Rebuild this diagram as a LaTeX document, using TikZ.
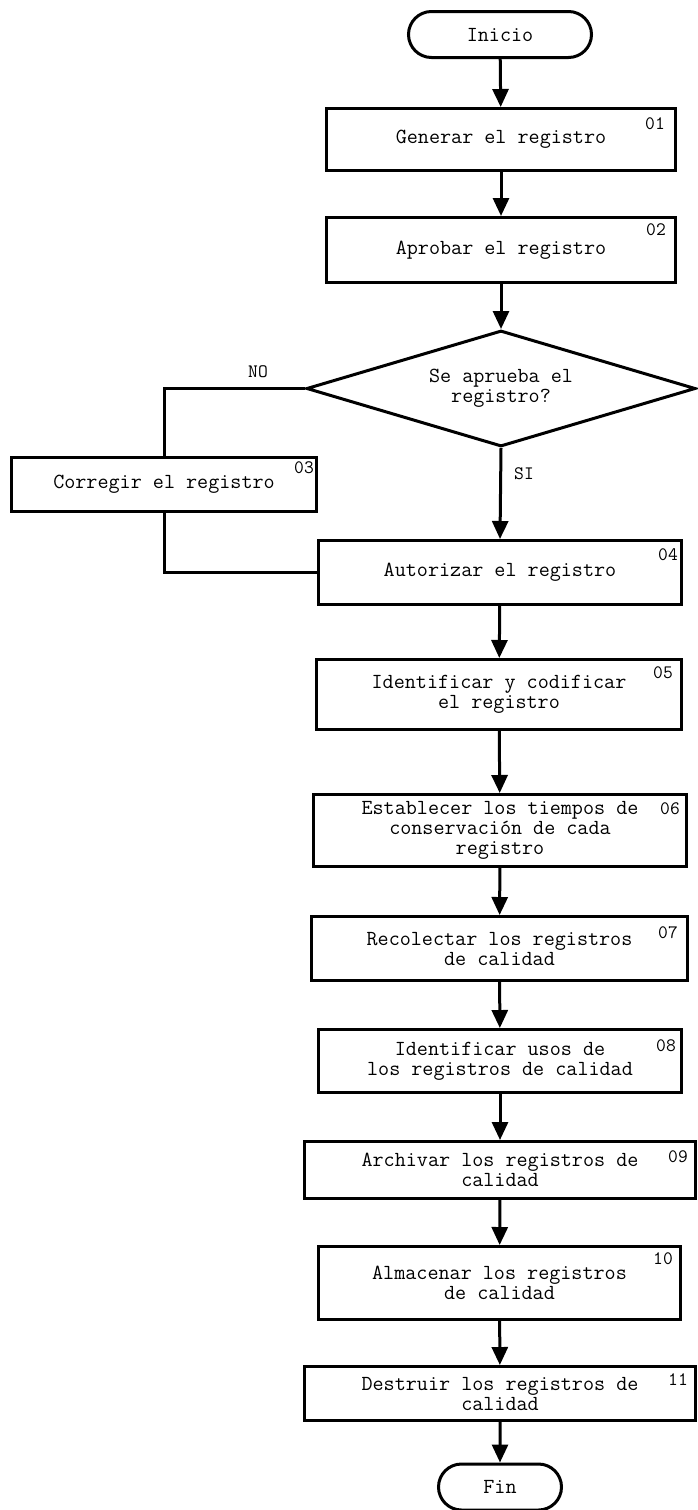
\documentclass[tikz,border=0pt]{standalone}
\usepackage{fontspec}
\usetikzlibrary{shapes.geometric,shapes.misc,arrows.meta}

\begin{document}
\begin{tikzpicture}[x=1pt,y=-1pt,
  txt/.style={font=\ttfamily\fontsize{21.5}{20}\selectfont},
  num/.style={font=\ttfamily\fontsize{19}{20}\selectfont, inner sep=0pt},
  lw/.style={line width=3pt},
  link/.style={lw},
  flow/.style={lw, -{Triangle[width=16pt,length=18pt]}},
  stepbox/.style={draw, lw, rectangle, txt, align=center, inner sep=0pt},
  term/.style={draw, lw, rounded rectangle, txt, inner sep=0pt},
  decision/.style={draw, lw, diamond, aspect=3.3, txt, align=center, inner sep=0pt}]

\useasboundingbox (0,0) rectangle (698,1510);

% terminals
\node[term, minimum width=183pt, minimum height=46pt] (start) at (500,34.5) {Inicio};
\node[term, minimum width=123pt, minimum height=46pt] (end) at (500,1487) {Fin};

% process steps
\node[stepbox, minimum width=349pt, minimum height=62pt] (b1) at (501,139.5) {Generar el registro};
\node[stepbox, minimum width=349pt, minimum height=65pt] (b2) at (501,250) {Aprobar el registro};
\node[decision, minimum width=389pt, minimum height=116pt] (dec) at (501,388.5) {Se aprueba el\\registro?};
\node[stepbox, minimum width=305pt, minimum height=54pt] (b3) at (164,484.5) {Corregir el registro};
\node[stepbox, minimum width=363pt, minimum height=64pt] (b4) at (500,572.5) {Autorizar el registro};
\node[stepbox, minimum width=365pt, minimum height=70pt] (b5) at (499,694.5) {Identificar y codificar\\el registro};
\node[stepbox, minimum width=373pt, minimum height=72pt] (b6) at (500,830.5) {Establecer los tiempos de\\conservación de cada\\registro};
\node[stepbox, minimum width=376pt, minimum height=64pt] (b7) at (499.5,948.5) {Recolectar los registros\\de calidad};
\node[stepbox, minimum width=363pt, minimum height=63pt] (b8) at (500,1061) {Identificar usos de\\los registros de calidad};
\node[stepbox, minimum width=391pt, minimum height=57pt] (b9) at (500,1170) {Archivar los registros de\\calidad};
\node[stepbox, minimum width=362pt, minimum height=73pt] (b10) at (499.5,1283) {Almacenar los registros\\de calidad};
\node[stepbox, minimum width=391pt, minimum height=54pt] (b11) at (500,1393.5) {Destruir los registros de\\calidad};

% step numbers
\node[num] (n1) at (655,124) {01};
\node[num] (n2) at (656,230) {02};
\node[num] (n3) at (304,468) {03};
\node[num] (n4) at (668,555) {04};
\node[num] (n5) at (663,673) {05};
\node[num] (n6) at (670,809) {06};
\node[num] (n7) at (668,933) {07};
\node[num] (n8) at (666,1046) {08};
\node[num] (n9) at (678,1157) {09};
\node[num] (n10) at (663,1259) {10};
\node[num] (n11) at (678,1380) {11};

% main flow
\draw[flow] (start) -- (b1);
\draw[flow] (b1) -- (b2);
\draw[flow] (b2.south) -- (dec.north);
\draw[flow] (dec.south) -- node[num, right, pos=0.28, xshift=12pt] (si) {SI} (b4.north);
\draw[flow] (b4) -- (b5);
\draw[flow] (b5) -- (b6);
\draw[flow] (b6) -- (b7);
\draw[flow] (b7) -- (b8);
\draw[flow] (b8) -- (b9);
\draw[flow] (b9) -- (b10);
\draw[flow] (b10) -- (b11);
\draw[flow] (b11) -- (end);

% rejection loop
\draw[link] (dec.west) -- (b3.north |- dec.west) -- (b3.north);
\node[num] (no) at (258,372) {NO};
\draw[link] (b3.south) |- (b4.west);

\end{tikzpicture}
\end{document}
